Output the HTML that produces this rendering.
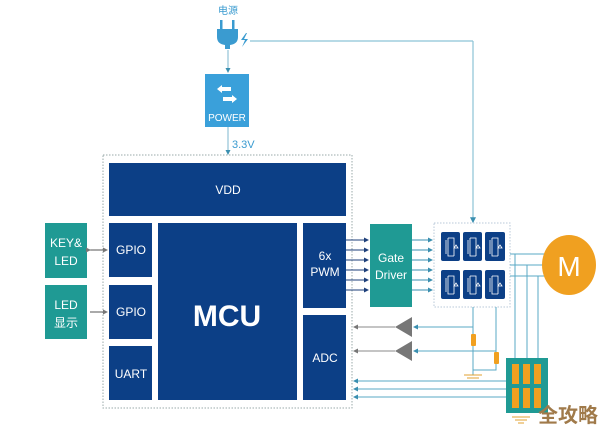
<!DOCTYPE html>
<html><head><meta charset="utf-8"><style>
html,body{margin:0;padding:0;background:#fff;}
svg{display:block;}
text{font-family:"Liberation Sans","Noto Sans CJK SC",sans-serif;}
</style></head><body>
<svg width="605" height="431" viewBox="0 0 605 431" xmlns="http://www.w3.org/2000/svg">
<defs>
<marker id="a" markerWidth="5" markerHeight="5" refX="4" refY="2.5" orient="auto"><path d="M0,0L5,2.5L0,5z" fill="#3a8fb0"/></marker>
<marker id="g" markerWidth="5" markerHeight="5" refX="4" refY="2.5" orient="auto"><path d="M0,0L5,2.5L0,5z" fill="#777"/></marker>
<marker id="d" markerWidth="5" markerHeight="5" refX="4" refY="2.5" orient="auto"><path d="M0,0L5,2.5L0,5z" fill="#1d3f7a"/></marker>
</defs>
<!-- plug -->
<text x="228" y="14" font-size="10" fill="#3a9bd0" text-anchor="middle">电源</text>
<rect x="220" y="20" width="2.5" height="10" fill="#3a9bd0"/><rect x="232" y="20" width="2.5" height="10" fill="#3a9bd0"/>
<path d="M217,29h21v8q0,7-8,8v4h-5v-4q-8-1-8-8z" fill="#3a9bd0"/>
<path d="M246,33l-5,7h4l-3,7l6-8h-4l3-6z" fill="#3a9bd0"/>
<line x1="228" y1="50" x2="228" y2="72" stroke="#7cb7cf" stroke-width="1" marker-end="url(#a)"/>
<line x1="250" y1="41" x2="473" y2="41" stroke="#8cc3d6" stroke-width="1.2"/>
<line x1="473" y1="41" x2="473" y2="222" stroke="#8cc3d6" stroke-width="1.2" marker-end="url(#a)"/>
<!-- power -->
<rect x="205" y="74" width="44" height="53" fill="#3aa0da"/>
<path d="M222,85l-5,4l5,4v-2h9v-4h-9z M232,95l5,4l-5,4v-2h-9v-4h9z" fill="#fff"/>
<text x="227" y="121" font-size="10" fill="#fff" text-anchor="middle">POWER</text>
<line x1="228" y1="127" x2="228" y2="154" stroke="#7cb7cf" marker-end="url(#a)"/>
<text x="232" y="148" font-size="11" fill="#3a9bd0">3.3V</text>
<!-- MCU area -->
<rect x="103" y="155" width="249" height="253" fill="none" stroke="#9aa" stroke-width="1" stroke-dasharray="1.5,1.5"/>
<g fill="#0c3f86">
<rect x="109" y="163" width="237" height="53"/>
<rect x="109" y="223" width="43" height="54"/>
<rect x="109" y="285" width="43" height="54"/>
<rect x="109" y="346" width="43" height="54"/>
<rect x="158" y="223" width="139" height="177"/>
<rect x="303" y="223" width="43" height="85"/>
<rect x="303" y="315" width="43" height="85"/>
</g>
<g fill="#fff" text-anchor="middle" font-size="12">
<text x="228" y="194">VDD</text>
<text x="131" y="254">GPIO</text>
<text x="131" y="316">GPIO</text>
<text x="131" y="378">UART</text>
<text x="325" y="260">6x</text><text x="325" y="276">PWM</text>
<text x="325" y="362">ADC</text>
<text x="227" y="326" font-size="30" font-weight="bold">MCU</text>
</g>
<!-- left boxes -->
<rect x="45" y="223" width="42" height="55" fill="#1f9a94"/>
<rect x="45" y="285" width="42" height="54" fill="#1f9a94"/>
<g fill="#fff" text-anchor="middle" font-size="12">
<text x="66" y="247">KEY&amp;</text><text x="66" y="265">LED</text>
<text x="66" y="309">LED</text><text x="66" y="327">显示</text>
</g>
<g stroke="#555" stroke-width="1">
<line x1="90" y1="250" x2="107" y2="250" marker-end="url(#g)" marker-start="url(#g)"/>
<line x1="90" y1="312" x2="107" y2="312" marker-end="url(#g)"/>
</g>
<!-- PWM lines -->
<g stroke="#1d3f7a" stroke-width="1">
<line x1="346" y1="240" x2="368" y2="240" marker-end="url(#d)"/>
<line x1="346" y1="250" x2="368" y2="250" marker-end="url(#d)"/>
<line x1="346" y1="260" x2="368" y2="260" marker-end="url(#d)"/>
<line x1="346" y1="270" x2="368" y2="270" marker-end="url(#d)"/>
<line x1="346" y1="280" x2="368" y2="280" marker-end="url(#d)"/>
<line x1="346" y1="290" x2="368" y2="290" marker-end="url(#d)"/>
</g>
<rect x="370" y="224" width="42" height="83" fill="#1f9a94"/>
<text x="391" y="262" font-size="12" fill="#fff" text-anchor="middle">Gate</text>
<text x="391" y="279" font-size="12" fill="#fff" text-anchor="middle">Driver</text>
<g stroke="#3a8fb0" stroke-width="1">
<line x1="412" y1="240" x2="432" y2="240" marker-end="url(#a)"/>
<line x1="412" y1="250" x2="432" y2="250" marker-end="url(#a)"/>
<line x1="412" y1="260" x2="432" y2="260" marker-end="url(#a)"/>
<line x1="412" y1="270" x2="432" y2="270" marker-end="url(#a)"/>
<line x1="412" y1="280" x2="432" y2="280" marker-end="url(#a)"/>
<line x1="412" y1="290" x2="432" y2="290" marker-end="url(#a)"/>
</g>
<!-- bridge -->
<rect x="434" y="223" width="76" height="84" fill="none" stroke="#b8c8d8" stroke-dasharray="1.5,1.5"/>
<g fill="#0c3f86">
<rect x="441" y="232" width="19" height="29" rx="2"/><rect x="463" y="232" width="19" height="29" rx="2"/><rect x="485" y="232" width="20" height="29" rx="2"/>
<rect x="441" y="270" width="19" height="29" rx="2"/><rect x="463" y="270" width="19" height="29" rx="2"/><rect x="485" y="270" width="20" height="29" rx="2"/>
</g>
<g stroke="#fff" stroke-width="0.8" fill="none">
<path d="M446,240v14M448,238v18h6M448,238h6v18M456,245l2,3h-4z"/>
<path d="M468,240v14M470,238v18h6M470,238h6v18M478,245l2,3h-4z"/>
<path d="M490,240v14M492,238v18h6M492,238h6v18M500,245l2,3h-4z"/>
<path d="M446,278v14M448,276v18h6M448,276h6v18M456,283l2,3h-4z"/>
<path d="M468,278v14M470,276v18h6M470,276h6v18M478,283l2,3h-4z"/>
<path d="M490,278v14M492,276v18h6M492,276h6v18M500,283l2,3h-4z"/>
</g>
<!-- motor -->
<g stroke="#5aa8c4" stroke-width="1" fill="none">
<path d="M510,254H545M510,265H545M510,276H545"/>
<path d="M515,254V358M527,265V358M538,276V358"/>
</g>
<ellipse cx="569" cy="265" rx="27" ry="30" fill="#f0a020"/>
<text x="569" y="276" font-size="28" fill="#fff" text-anchor="middle">M</text>
<!-- shunt & opa -->
<g stroke="#5aa8c4" stroke-width="1" fill="none">
<path d="M473,307V375M496,307V355M496,364V370H473"/>
<line x1="473" y1="327" x2="414" y2="327" marker-end="url(#a)"/>
<line x1="496" y1="351" x2="414" y2="351" marker-end="url(#a)"/>
</g>
<rect x="471" y="334" width="5" height="12" rx="1" fill="#f0a020"/>
<rect x="494" y="352" width="5" height="12" rx="1" fill="#f0a020"/>
<g stroke="#e0a030" stroke-width="1"><path d="M464,375h18M467,378h12M470,381h6"/><path d="M512,417h18M515,420h12M518,423h6"/></g>
<path d="M412,317V337L395,327z M412,341V361L395,351z" fill="#777"/>
<g stroke="#888" stroke-width="1">
<line x1="395" y1="327" x2="354" y2="327" marker-end="url(#g)"/>
<line x1="395" y1="351" x2="354" y2="351" marker-end="url(#g)"/>
</g>
<!-- sensor -->
<g stroke="#5aa8c4" stroke-width="1">
<line x1="506" y1="381" x2="354" y2="381" marker-end="url(#a)"/>
<line x1="506" y1="389" x2="354" y2="389" marker-end="url(#a)"/>
<line x1="506" y1="397" x2="354" y2="397" marker-end="url(#a)"/>
</g>
<rect x="506" y="358" width="42" height="55" fill="#1f9a94"/>
<g fill="#f0a020">
<rect x="512" y="364" width="7" height="20"/><rect x="523" y="364" width="7" height="20"/><rect x="534" y="364" width="7" height="20"/>
<rect x="512" y="388" width="7" height="20"/><rect x="523" y="388" width="7" height="20"/><rect x="534" y="388" width="7" height="20"/>
</g>
<text x="568" y="422" font-size="20" font-weight="bold" fill="#a07a4a" text-anchor="middle">全攻略</text>
</svg>
</body></html>
